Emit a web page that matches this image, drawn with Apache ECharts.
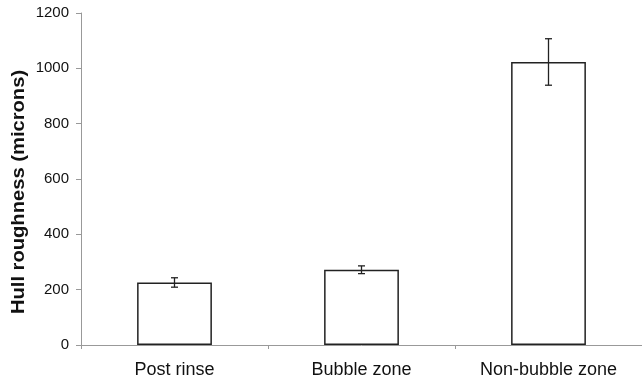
<!DOCTYPE html>
<html><head><meta charset="utf-8">
<script src="https://cdn.jsdelivr.net/npm/echarts@6/dist/echarts.min.js"></script>
<style>html,body{margin:0;padding:0;background:#fff}#c{width:642px;height:382px}</style>
</head><body><div id="c"></div>
<script>
var categories = ['Post rinse', 'Bubble zone', 'Non-bubble zone'];
var means = [226, 272, 1023];
var errors = [17, 14, 84];
var yTicks = [0, 200, 400, 600, 800, 1000, 1200];
var yTitle = 'Hull roughness (microns)';

var errData = categories.map(function (c, i) { return [i, means[i] - errors[i], means[i] + errors[i]]; });
var chart = echarts.init(document.getElementById('c'), null, {renderer: 'canvas'});
chart.setOption({
  animation: false,
  backgroundColor: '#fff',
  grid: {left: 81, top: 13, width: 564, height: 332},
  graphic: [{
    type: 'text', x: 19, y: 192, rotation: Math.PI / 2, scaleX: 1.12,
    style: {text: yTitle, fill: '#111', font: 'bold 18px "Liberation Sans"', align: 'center', verticalAlign: 'middle'}
  }],
  xAxis: {
    type: 'category', data: categories,
    axisLine: {lineStyle: {color: '#999', width: 1}},
    axisTick: {show: true, length: 4, lineStyle: {color: '#999'}},
    axisLabel: {color: '#111', fontFamily: 'Liberation Sans', fontSize: 18, margin: 16}
  },
  yAxis: {
    type: 'value', min: yTicks[0], max: yTicks[yTicks.length - 1], interval: 200,
    axisLine: {show: true, lineStyle: {color: '#999', width: 1}},
    axisTick: {show: true, length: 5, lineStyle: {color: '#999'}},
    splitLine: {show: false},
    axisLabel: {color: '#111', fontFamily: 'Liberation Sans', fontSize: 15, margin: 12,
      formatter: function (v) { return String(v); }}
  },
  series: [{
    type: 'bar', data: means, barWidth: '40%',
    itemStyle: {color: '#fff', borderColor: '#222', borderWidth: 1.5}
  }, {
    type: 'custom', data: errData,
    renderItem: function (params, api) {
      var x = api.value(0);
      var lo = api.coord([x, api.value(1)]);
      var hi = api.coord([x, api.value(2)]);
      var w = 3.5;
      var s = {stroke: '#222', lineWidth: 1.3};
      return {type: 'group', children: [
        {type: 'line', shape: {x1: lo[0], y1: lo[1], x2: hi[0], y2: hi[1]}, style: s},
        {type: 'line', shape: {x1: lo[0] - w, y1: lo[1], x2: lo[0] + w, y2: lo[1]}, style: s},
        {type: 'line', shape: {x1: hi[0] - w, y1: hi[1], x2: hi[0] + w, y2: hi[1]}, style: s}
      ]};
    },
    z: 5
  }]
});
</script></body></html>
